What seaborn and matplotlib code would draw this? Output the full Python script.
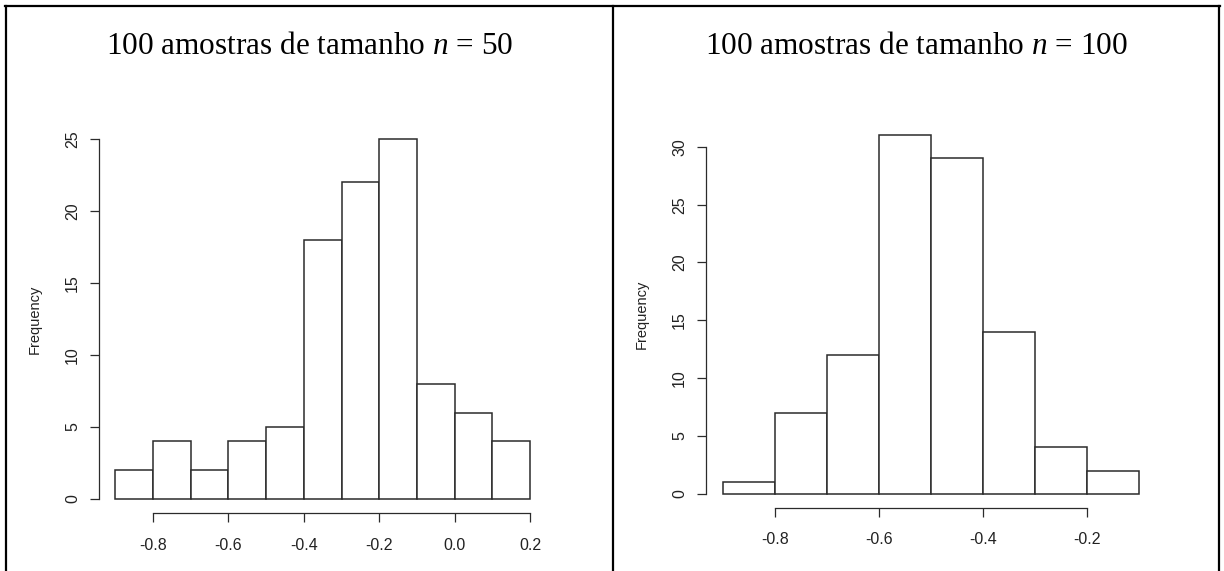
import matplotlib
matplotlib.use("Agg")
import matplotlib.pyplot as plt
from matplotlib.lines import Line2D
import seaborn as sns

# Histogram counts of the sample means, one panel per sample size
left_edges = [-0.9, -0.8, -0.7, -0.6, -0.5, -0.4, -0.3, -0.2, -0.1, 0.0, 0.1, 0.2]
left_counts = [2, 4, 2, 4, 5, 18, 22, 25, 8, 6, 4]
right_edges = [-0.9, -0.8, -0.7, -0.6, -0.5, -0.4, -0.3, -0.2, -0.1]
right_counts = [1, 7, 12, 31, 29, 14, 4, 2]

left_xticks = [-0.8, -0.6, -0.4, -0.2, 0.0, 0.2]
left_xticklabels = ["-0.8", "-0.6", "-0.4", "-0.2", "0.0", "0.2"]
right_xticks = [-0.8, -0.6, -0.4, -0.2]
right_xticklabels = ["-0.8", "-0.6", "-0.4", "-0.2"]
left_yticks = [0, 5, 10, 15, 20, 25]
right_yticks = [0, 5, 10, 15, 20, 25, 30]

titles = ["100 amostras de tamanho $n$ = 50", "100 amostras de tamanho $n$ = 100"]
ylabel = "Frequency"

sns.set_style("ticks")
plt.rcParams["font.family"] = ["Liberation Sans", "DejaVu Sans"]
plt.rcParams["mathtext.fontset"] = "custom"
plt.rcParams["mathtext.rm"] = "Liberation Serif"
plt.rcParams["mathtext.it"] = "Liberation Serif:italic"

W, H = 1224, 571
fig = plt.figure(figsize=(W / 100, H / 100), dpi=100)
fig.patch.set_facecolor("white")


def px_axes(x0, x1, ytop, ybot):
    return fig.add_axes([x0 / W, 1 - ybot / H, (x1 - x0) / W, (ybot - ytop) / H])


panels = [
    dict(edges=left_edges, counts=left_counts, xt=left_xticks, xtl=left_xticklabels,
         yt=left_yticks, box=(98.8, 546.6, 124.6, 513.4), title_x=309.5),
    dict(edges=right_edges, counts=right_counts, xt=right_xticks, xtl=right_xticklabels,
         yt=right_yticks, box=(706, 1155.6, 121, 508), title_x=916),
]

edge_col = "#2b2b2b"
for p, title in zip(panels, titles):
    ax = px_axes(*p["box"])
    ax.set_facecolor("none")
    edges = p["edges"]
    centers = [(a + b) / 2 for a, b in zip(edges[:-1], edges[1:])]
    sns.histplot(x=centers, weights=p["counts"], bins=edges, ax=ax,
                 stat="count", color="white", alpha=1.0,
                 edgecolor=edge_col, linewidth=1.1)
    lo, hi = edges[0], edges[-1]
    pad = 0.04 * (hi - lo)
    ax.set_xlim(lo - pad, hi + pad)
    ymax = max(p["counts"])
    ax.set_ylim(-0.04 * ymax, ymax * 1.04)
    ax.set_xticks(p["xt"])
    ax.set_xticklabels(p["xtl"])
    ax.set_yticks(p["yt"])
    ax.set_yticklabels([str(v) for v in p["yt"]], rotation=90, va="center")
    ax.tick_params(axis="both", length=6.5, width=0.9, color=edge_col,
                   labelsize=11.5, labelcolor="#222222")
    ax.tick_params(axis="x", pad=11)
    ax.tick_params(axis="y", pad=7)
    sns.despine(ax=ax, trim=True)
    for s in ("left", "bottom"):
        ax.spines[s].set_linewidth(0.9)
        ax.spines[s].set_color(edge_col)
    ax.set_xlabel("")
    ax.set_ylabel(ylabel, fontsize=10.5, color="#222222")
    width_px = p["box"][1] - p["box"][0]
    ax.yaxis.set_label_coords(-57 / width_px, 0.5)

    fig.text(p["title_x"] / W, 1 - 54 / H, title, ha="center", va="baseline",
             fontsize=22.5, family="Liberation Serif", color="black")

# Table-cell frame around the two panels
lw = 1.6
for xs, ys in [
    ([6 / W, 6 / W], [0, 1 - 6 / H]),
    ([5 / W, 1220 / W], [1 - 6 / H, 1 - 6 / H]),
    ([613 / W, 613 / W], [0, 1 - 6 / H]),
    ([1219 / W, 1219 / W], [0, 1 - 6 / H]),
]:
    fig.add_artist(Line2D(xs, ys, transform=fig.transFigure, color="black",
                          linewidth=lw, solid_capstyle="projecting"))

fig.savefig("out.png", dpi=100, facecolor="white")
